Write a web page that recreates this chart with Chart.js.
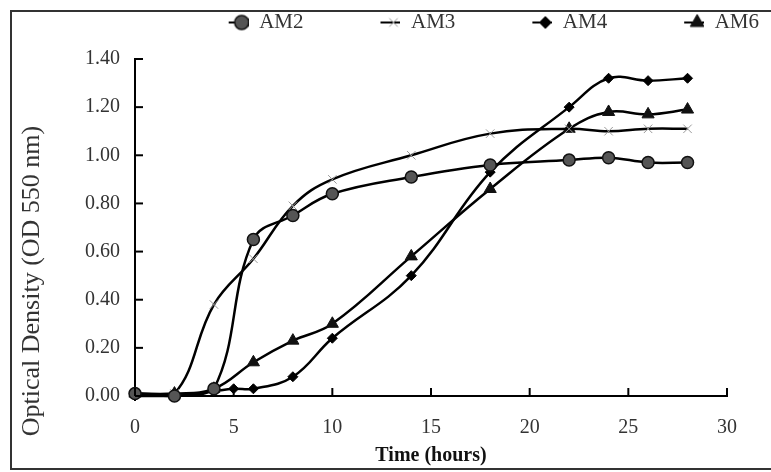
<!DOCTYPE html>
<html>
<head>
<meta charset="utf-8">
<script src="https://cdn.jsdelivr.net/npm/chart.js@4.4.1/dist/chart.umd.min.js"></script>
<style>
  html, body { margin: 0; padding: 0; background: #fff; }
  #wrap { position: relative; width: 771px; height: 472px; }
  #frame { position: absolute; left: 10px; top: 10px; width: 780px; height: 460px;
           border: 2px solid #333; box-sizing: border-box; pointer-events: none; }
</style>
</head>
<body>
<div id="wrap">
  <canvas id="growthChart" width="771" height="472"></canvas>
  <div id="frame"></div>
</div>
<script>
// sampling times (hours)
const hours = [0, 2, 4, 6, 8, 10, 14, 18, 22, 24, 26, 28];
const hoursAM4 = [0, 2, 4, 5, 6, 8, 10, 14, 18, 22, 24, 26, 28];

// optical density readings (OD 550 nm)
const am2 = [0.01, 0.00, 0.03, 0.65, 0.75, 0.84, 0.91, 0.96, 0.98, 0.99, 0.97, 0.97];
const am3 = [0.01, 0.01, 0.38, 0.57, 0.79, 0.90, 1.00, 1.09, 1.11, 1.10, 1.11, 1.11];
const am4 = [0.00, 0.00, 0.02, 0.03, 0.03, 0.08, 0.24, 0.50, 0.93, 1.20, 1.32, 1.31, 1.32];
const am6 = [0.01, 0.01, 0.03, 0.14, 0.23, 0.30, 0.58, 0.86, 1.11, 1.18, 1.17, 1.19];

const xTicks = [0, 5, 10, 15, 20, 25, 30];
const yTicks = [0, 0.2, 0.4, 0.6, 0.8, 1.0, 1.2, 1.4];

const serif = '"Liberation Serif", "Times New Roman", serif';
const ICON_W = 85;

function pairs(xs, ys) {
  return ys.map((v, i) => ({ x: xs[i], y: v }));
}

// legend symbol: short line with the marker on it, pushed to the right of a wide canvas
function legendIcon(style, fill, stroke, r, bw) {
  const c = document.createElement('canvas');
  c.width = ICON_W; c.height = 18;
  const g = c.getContext('2d');
  const cx = ICON_W - 7;
  g.strokeStyle = '#000';
  g.lineWidth = 2;
  g.beginPath(); g.moveTo(cx - 13, 9); g.lineTo(ICON_W, 9); g.stroke();
  g.fillStyle = fill;
  g.strokeStyle = stroke;
  g.lineWidth = bw;
  Chart.helpers.drawPoint(g, { pointStyle: style, radius: r, borderWidth: bw }, cx, 9);
  return c;
}

// ticks point into the plot, Excel style; y title drawn a bit low like the original
const innerTicks = {
  id: 'innerTicks',
  afterInit(chart) {
    const lg = chart.legend;
    if (lg) {
      const fit = lg.fit;
      lg.fit = function () { fit.call(this); this.height = 59; };
    }
  },
  afterDraw(chart) {
    const { ctx, chartArea, scales } = chart;
    ctx.save();
    ctx.strokeStyle = '#000';
    ctx.lineWidth = 2;
    scales.x.ticks.forEach(t => {
      const px = scales.x.getPixelForValue(t.value);
      ctx.beginPath(); ctx.moveTo(px, chartArea.bottom); ctx.lineTo(px, chartArea.bottom - 8); ctx.stroke();
    });
    scales.y.ticks.forEach(t => {
      const py = scales.y.getPixelForValue(t.value);
      ctx.beginPath(); ctx.moveTo(chartArea.left, py); ctx.lineTo(chartArea.left + 8, py); ctx.stroke();
    });
    ctx.fillStyle = '#333';
    ctx.font = '26px ' + serif;
    ctx.textAlign = 'center';
    ctx.textBaseline = 'middle';
    ctx.translate(32, 281);
    ctx.rotate(-Math.PI / 2);
    ctx.fillText('Optical Density (OD 550 nm)', 0, 0);
    ctx.restore();
  }
};

const icons = {
  AM2: legendIcon('circle', '#555', '#111', 7, 1.5),
  AM3: legendIcon('crossRot', '#999', '#999', 6, 1),
  AM4: legendIcon('rectRot', '#000', '#000', 6, 1),
  AM6: legendIcon('triangle', '#111', '#111', 8, 1)
};

const ctx = document.getElementById('growthChart').getContext('2d');
new Chart(ctx, {
  type: 'line',
  data: {
    datasets: [
      { label: 'AM2', data: pairs(hours, am2), pointStyle: 'circle', pointRadius: 6,
        pointBackgroundColor: '#555', pointBorderColor: '#111', pointBorderWidth: 1.5 },
      { label: 'AM3', data: pairs(hours, am3), pointStyle: 'crossRot', pointRadius: 6,
        pointBackgroundColor: '#999', pointBorderColor: '#999', pointBorderWidth: 1 },
      { label: 'AM4', data: pairs(hoursAM4, am4), pointStyle: 'rectRot', pointRadius: 5,
        pointBackgroundColor: '#000', pointBorderColor: '#000', pointBorderWidth: 1 },
      { label: 'AM6', data: pairs(hours, am6), pointStyle: 'triangle', pointRadius: 7,
        pointBackgroundColor: '#111', pointBorderColor: '#111', pointBorderWidth: 1 }
    ].map(d => Object.assign({
      borderColor: '#000',
      borderWidth: 2.5,
      tension: 0.4,
      fill: false,
      clip: false
    }, d))
  },
  options: {
    responsive: false,
    animation: false,
    layout: { padding: 0 },
    plugins: {
      tooltip: { enabled: false },
      legend: {
        position: 'top',
        align: 'end',
        labels: {
          usePointStyle: true,
          pointStyleWidth: ICON_W,
          padding: 12,
          color: '#333',
          font: { family: serif, size: 21 },
          generateLabels(chart) {
            return Chart.defaults.plugins.legend.labels.generateLabels(chart).map(l => {
              l.pointStyle = icons[l.text];
              return l;
            });
          }
        }
      }
    },
    scales: {
      x: {
        type: 'linear',
        min: 0,
        max: 30,
        afterBuildTicks(scale) { scale.ticks = xTicks.map(v => ({ value: v })); },
        afterFit(scale) { scale.height = 76; },
        ticks: { color: '#333', padding: 20, font: { family: serif, size: 20 } },
        grid: { drawOnChartArea: false, drawTicks: false },
        border: { color: '#000', width: 2 },
        title: { display: true, text: 'Time (hours)', color: '#111', padding: { top: 0 },
                 font: { family: serif, size: 20, weight: 'bold' } }
      },
      y: {
        min: 0,
        max: 1.4,
        afterBuildTicks(scale) { scale.ticks = yTicks.map(v => ({ value: v })); },
        afterFit(scale) { scale.width = 135; },
        ticks: { color: '#333', padding: 15, font: { family: serif, size: 20 },
                 callback: v => v.toFixed(2) },
        grid: { drawOnChartArea: false, drawTicks: false },
        border: { color: '#000', width: 2 }
      },
      // empty right-hand gutter so the plot stops at 30 h like the original
      gutter: {
        axis: 'y',
        position: 'right',
        min: 0,
        max: 1,
        afterFit(scale) { scale.width = 44; },
        ticks: { display: false },
        grid: { display: false },
        border: { display: false }
      }
    }
  },
  plugins: [innerTicks]
});
</script>
</body>
</html>
